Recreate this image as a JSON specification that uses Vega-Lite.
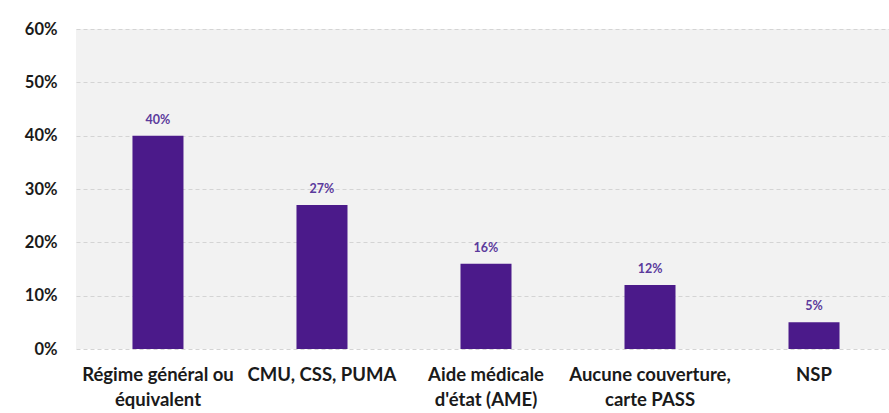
{
  "$schema": "https://vega.github.io/schema/vega-lite/v6.json",
  "autosize": "none",
  "width": 813,
  "height": 320,
  "padding": {"left": 76, "top": 29, "right": 0, "bottom": 64},
  "background": "#ffffff",
  "config": {
    "view": {"stroke": null, "fill": "#f2f2f2"},
    "font": "Lato"
  },
  "data": {
    "values": [
      {"cat": "Régime général ou|équivalent", "v": 0.40},
      {"cat": "CMU, CSS, PUMA", "v": 0.27},
      {"cat": "Aide médicale|d'état (AME)", "v": 0.16},
      {"cat": "Aucune couverture,|carte PASS", "v": 0.12},
      {"cat": "NSP", "v": 0.05}
    ]
  },
  "encoding": {
    "x": {
      "field": "cat", "type": "nominal", "sort": null,
      "scale": {"paddingInner": 0.689, "paddingOuter": 0.323, "align": 0.533},
      "axis": {
        "title": null, "labelAngle": 0, "domain": false, "ticks": false,
        "labelExpr": "split(datum.label, '|')",
        "labelFontSize": 18.5, "labelFontWeight": "bold", "labelColor": "#1a1a1a",
        "labelPadding": 16, "labelLineHeight": 25, "labelLimit": 300
      }
    },
    "y": {
      "field": "v", "type": "quantitative",
      "scale": {"domain": [0, 0.6]},
      "axis": {
        "title": null, "format": ".0%", "values": [0, 0.1, 0.2, 0.3, 0.4, 0.5, 0.6],
        "labelOverlap": false,
        "domain": false, "ticks": false, "labelPadding": 19,
        "labelFontSize": 16.5, "labelFontWeight": "bold", "labelColor": "#1a1a1a",
        "gridColor": "#d4d4d4", "gridDash": [4, 3], "gridWidth": 1
      }
    }
  },
  "layer": [
    {"mark": {"type": "bar", "color": "#4b1a8a"}},
    {
      "mark": {"type": "text", "dy": -9, "fontSize": 12.5, "fontWeight": "bold", "color": "#5b3a9c", "baseline": "bottom"},
      "encoding": {"text": {"field": "v", "type": "quantitative", "format": ".0%"}}
    }
  ]
}
